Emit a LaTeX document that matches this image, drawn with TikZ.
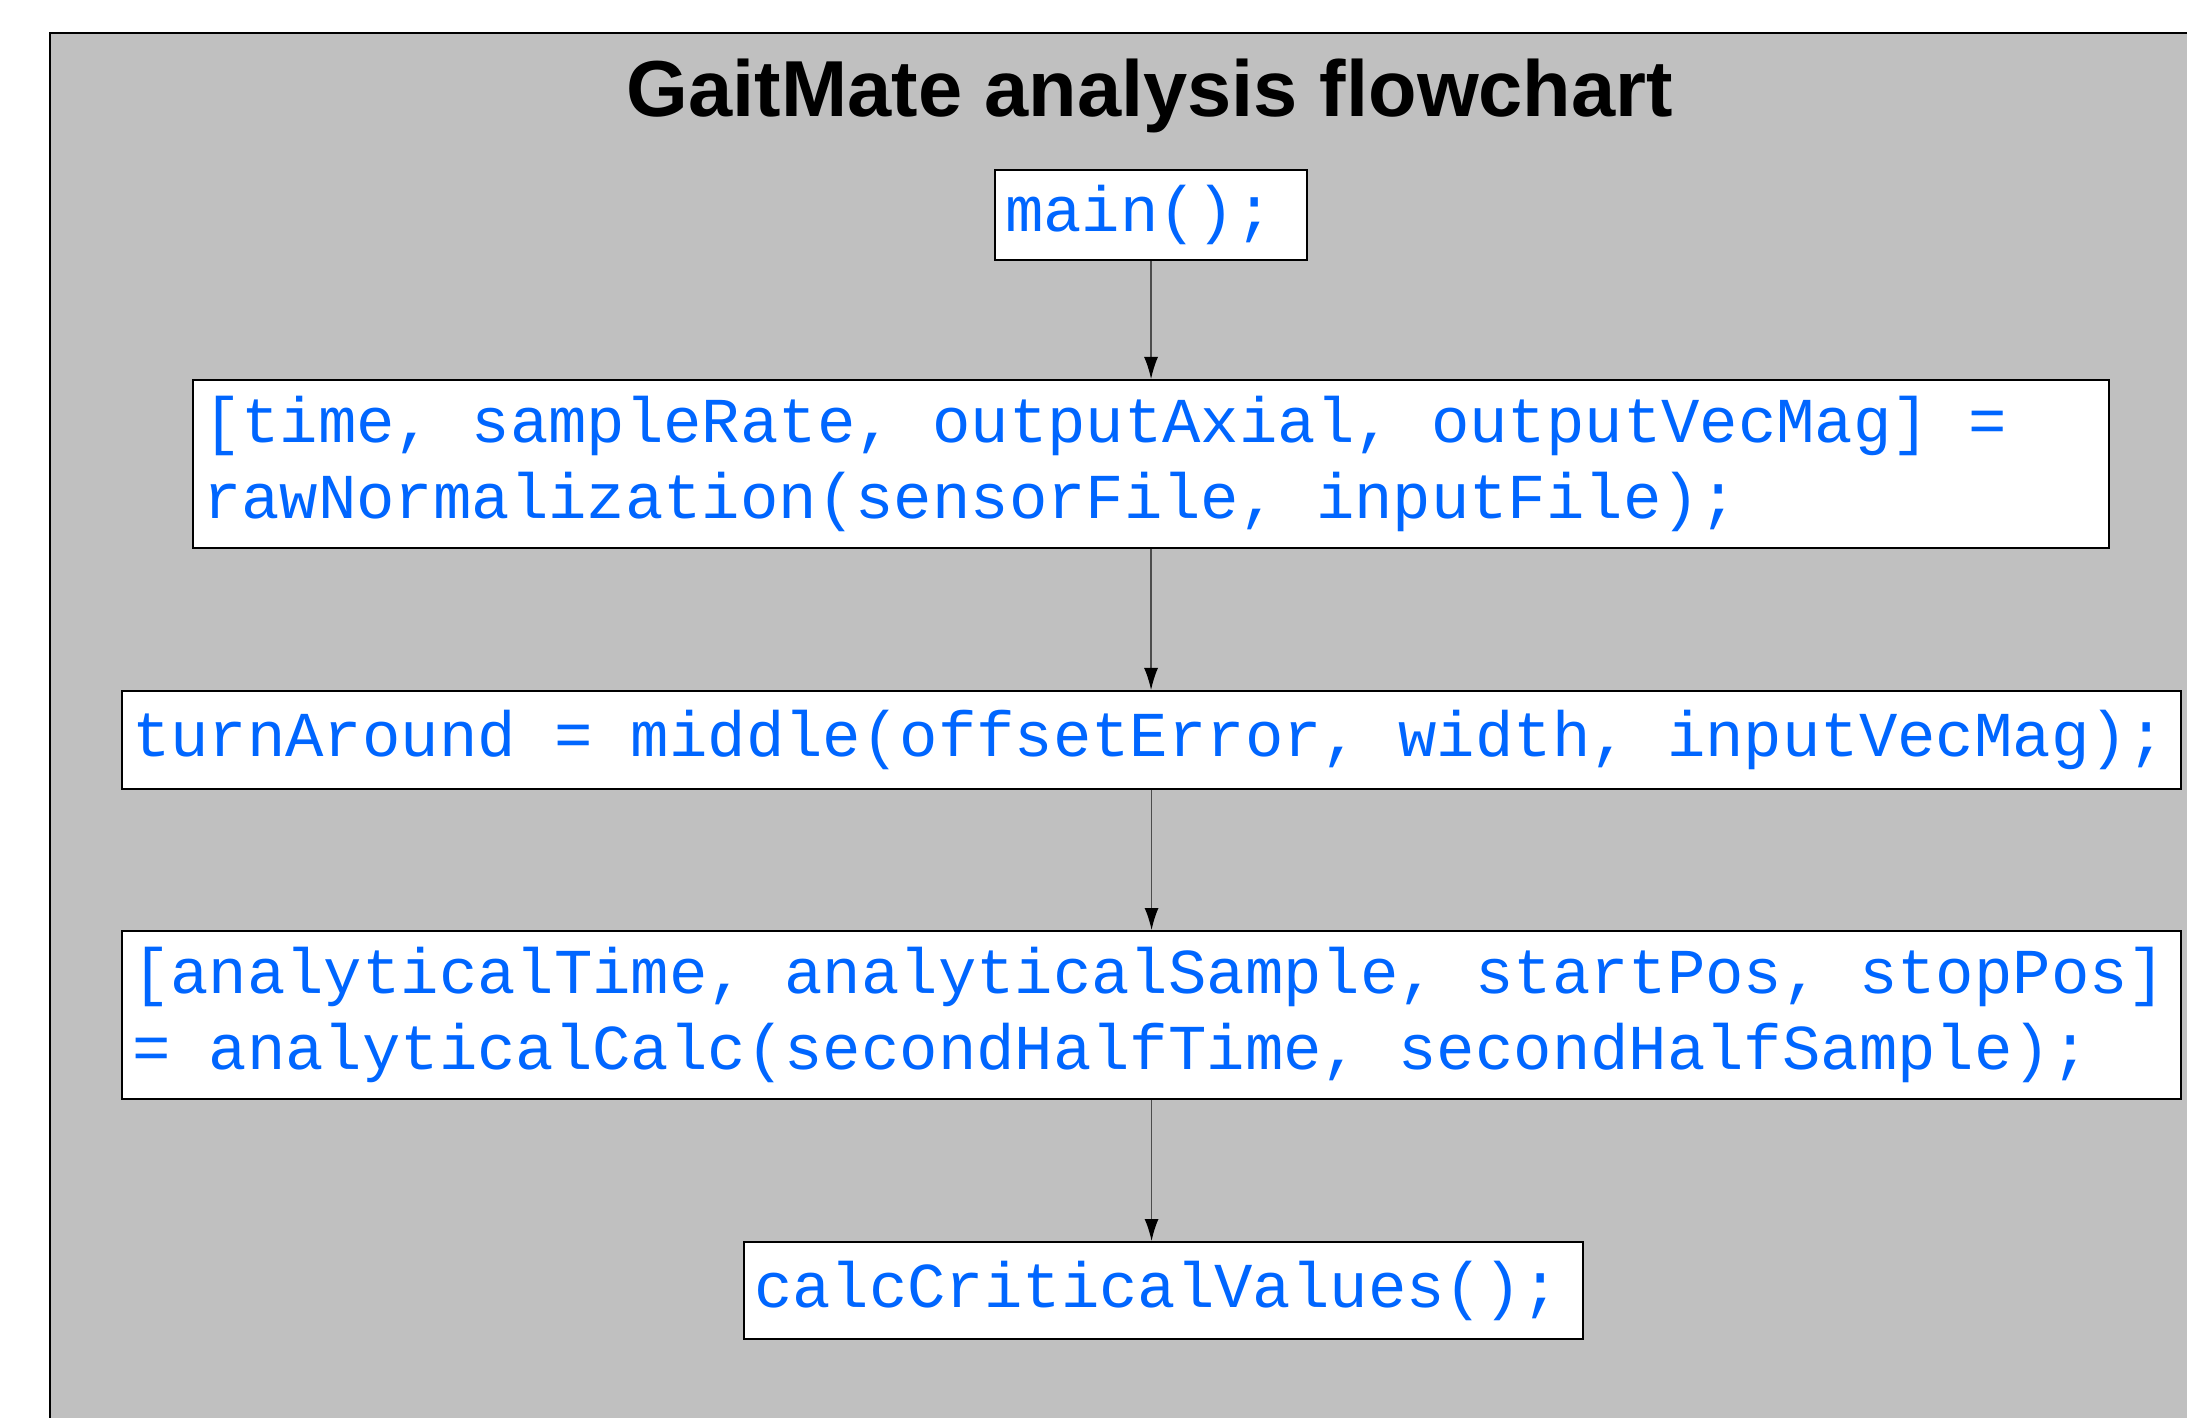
\documentclass[tikz,border=0pt]{standalone}
\usepackage{fontspec}
\setmainfont{Liberation Serif}
\setsansfont{Liberation Sans}
\setmonofont{Liberation Mono}
\usetikzlibrary{arrows.meta}

\definecolor{codeblue}{RGB}{0,102,255}
\definecolor{panelgray}{RGB}{192,192,192}

\tikzset{
	codebox/.style 2 args = {draw = black, fill = white, line width = 0.6pt, anchor = north west,
		inner xsep = 0.1cm, inner ysep = 0pt, align = flush left, text = codeblue,
		font = \ttfamily\fontsize{18.2}{21.8}\selectfont, text width = #1, minimum height = #2,
		execute at begin node = {\spaceskip=\fontdimen2\font\relax\xspaceskip=\fontdimen2\font\relax}},
	flowarrow/.style = {draw = black!70, line width = 0.4pt, -{Latex[length = 2.2mm, width = 1.4mm, black]}}
}

\begin{document}
\begin{tikzpicture}
		\useasboundingbox (0, 0) rectangle (21.87, -14.18);
		\filldraw[fill = panelgray, draw = black, line width = 0.5pt] (0.5, -0.33) rectangle (22.5, -15);
		\node[font = \sffamily\bfseries\fontsize{22.6}{27}\selectfont, anchor = base] (title) at (11.5, -1.17) {GaitMate analysis flowchart};
		\node[codebox = {2.92cm}{0.90cm}] (main) at (9.94, -1.69) {main();};
		\node[codebox = {18.96cm}{1.68cm}] (norm) at (1.92, -3.79) {[time, sampleRate, outputAxial, outputVecMag] =\\rawNormalization(sensorFile, inputFile);};
		\node[codebox = {20.39cm}{0.98cm}] (middle) at (1.21, -6.90) {turnAround = middle(offsetError, width, inputVecMag);};
		\node[codebox = {20.39cm}{1.68cm}] (calc) at (1.21, -9.30) {[analyticalTime, analyticalSample, startPos, stopPos]\\= analyticalCalc(secondHalfTime, secondHalfSample);};
		\node[codebox = {8.19cm}{0.97cm}] (crit) at (7.43, -12.41) {calcCriticalValues();};
		\draw[flowarrow] (main.south) -- (main.south |- norm.north);
		\draw[flowarrow] (norm.south) -- (norm.south |- middle.north);
		\draw[flowarrow] (middle.south) -- (middle.south |- calc.north);
		\draw[flowarrow] (calc.south) -- (calc.south |- crit.north);
		\end{tikzpicture}
\end{document}
